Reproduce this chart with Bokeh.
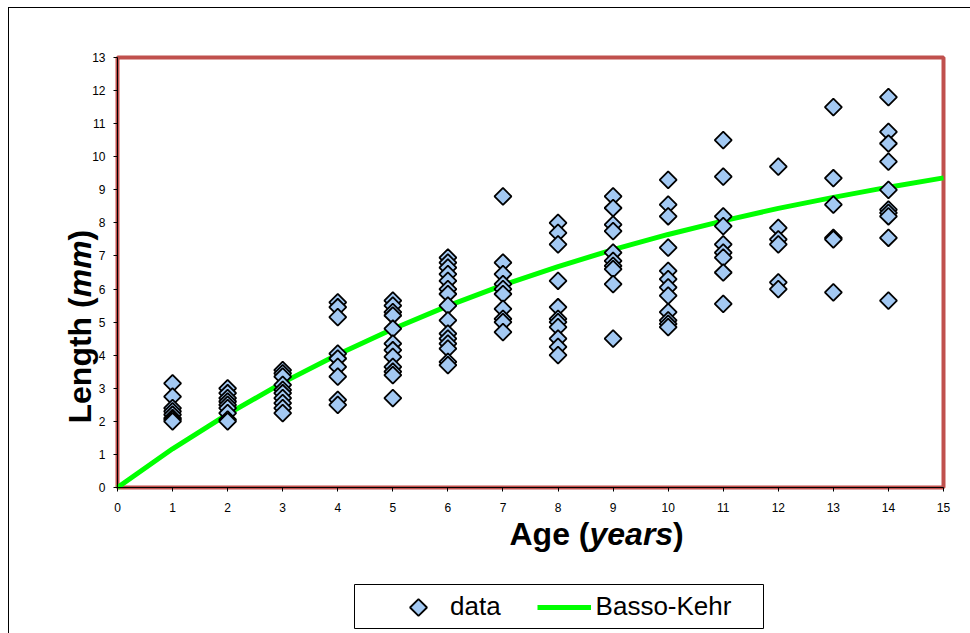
import numpy as np
from bokeh.plotting import figure
from bokeh.models import (FixedTicker, Range1d, Label, BoxAnnotation, Legend,
                          LegendItem)
from bokeh.embed import file_html
from bokeh.resources import INLINE

# Measured lengths (mm) for each age class (years)
length_age1 = [3.15, 2.75, 2.4, 2.3, 2.2, 2.1, 2.05, 2.0]
length_age2 = [3.0, 2.85, 2.7, 2.6, 2.5, 2.4, 2.25, 2.05, 2.0]
length_age3 = [3.55, 3.45, 3.35, 3.1, 2.95, 2.85, 2.7, 2.55, 2.4, 2.25]
length_age4 = [5.6, 5.45, 5.15, 4.05, 3.9, 3.65, 3.35, 2.65, 2.5]
length_age5 = [5.65, 5.5, 5.3, 5.2, 4.8, 4.35, 4.15, 3.95, 3.65, 3.5, 3.4, 2.7]
length_age6 = [6.95, 6.8, 6.65, 6.45, 6.25, 6.0, 5.85, 5.5, 5.05, 4.65, 4.5,
               4.35, 4.2, 3.8, 3.7]
length_age7 = [8.8, 6.8, 6.45, 6.15, 6.0, 5.85, 5.4, 5.1, 5.0, 4.7]
length_age8 = [8.0, 7.7, 7.35, 6.25, 5.45, 5.1, 5.0, 4.85, 4.5, 4.25, 4.0]
length_age9 = [8.8, 8.45, 7.95, 7.75, 7.1, 6.85, 6.7, 6.6, 6.15, 4.5]
length_age10 = [9.3, 8.55, 8.2, 7.25, 6.55, 6.3, 6.05, 5.8, 5.3, 5.05, 4.95, 4.85]
length_age11 = [10.5, 9.4, 8.2, 7.9, 7.35, 7.1, 6.95, 6.5, 5.55]
length_age12 = [9.7, 7.85, 7.5, 7.35, 6.2, 6.0]
length_age13 = [11.5, 9.35, 8.55, 7.55, 7.5, 5.9]
length_age14 = [11.8, 10.75, 10.4, 9.85, 9.0, 8.4, 8.3, 8.2, 7.55, 5.65]

# Fitted Basso-Kehr growth curve
curve_age = [0, 1, 2, 3, 4, 5, 6, 7, 8, 9, 10, 11, 12, 13, 14, 15]
curve_length = [0.0, 1.17, 2.22, 3.17, 4.02, 4.79, 5.49, 6.12, 6.68, 7.19,
                7.65, 8.06, 8.44, 8.77, 9.08, 9.36]

x_ticks = list(range(0, 16))
y_ticks = list(range(0, 14))

groups = [length_age1, length_age2, length_age3, length_age4, length_age5,
          length_age6, length_age7, length_age8, length_age9, length_age10,
          length_age11, length_age12, length_age13, length_age14]
data_age = []
data_length = []
for age, values in enumerate(groups, start=1):
    data_age += [age] * len(values)
    data_length += values

FONT = "Liberation Sans"
W, H = 970, 633
LEFT_PANEL = 40                     # room for the y tick labels
AX_L, AX_R, AX_T, AX_B = 117, 943, 57, 487   # data box on the page (px)

x0, x1 = x_ticks[0], x_ticks[-1]
y0, y1 = y_ticks[0], y_ticks[-1]
sx = (AX_R - AX_L) / (x1 - x0)
sy = (AX_B - AX_T) / (y1 - y0)
x_range = Range1d(x0 - (AX_L - LEFT_PANEL) / sx, x1 + (W - AX_R) / sx)
y_range = Range1d(y0 - (H - AX_B) / sy, y1 + AX_T / sy)

p = figure(width=W, height=H, x_range=x_range, y_range=y_range,
           x_axis_location="above", y_axis_location="left",
           output_backend="svg", toolbar_location=None,
           min_border_left=LEFT_PANEL, min_border_right=0,
           min_border_top=0, min_border_bottom=0)
p.xgrid.visible = False
p.ygrid.visible = False
p.outline_line_color = None
p.background_fill_alpha = 0
p.border_fill_alpha = 0
# white page with the thin outer chart-area frame
p.styles = {"background": "linear-gradient(#000,#000) 8px 7px / 1px 700px no-repeat,"
                          " linear-gradient(#000,#000) 8px 7px / 1000px 1px no-repeat,"
                          " #ffffff"}

# red plot-area border
p.add_layout(BoxAnnotation(left=x0, right=x1, bottom=y0, top=y1,
                           fill_color=None, line_color="#c0504d",
                           line_alpha=1, line_width=4, level="underlay"))

xa = p.xaxis[0]
ya = p.yaxis[0]
xa.ticker = FixedTicker(ticks=x_ticks)
ya.ticker = FixedTicker(ticks=y_ticks)
xa.fixed_location = y0
ya.fixed_location = x0
xa.bounds = (x0, x1)
ya.bounds = (y0, y1)
for ax in (xa, ya):
    ax.axis_line_color = "black"
    ax.axis_line_width = 1
    ax.major_tick_line_color = "black"
    ax.minor_tick_line_color = None
    ax.major_label_text_font = FONT
    ax.major_label_text_font_size = "12px"
    ax.major_label_text_color = "#000000"
ya.major_tick_in = 0
ya.major_tick_out = 4
ya.major_label_standoff = 8
# x ticks point down from the zero line, labels sit beneath it
xa.major_tick_in = 4
xa.major_tick_out = 0
xa.major_label_standoff = -24

MARKER = dict(marker="square", angle=np.pi / 4, size=12, fill_color="#a3c9f3",
              line_color="black", line_width=1.8)

curve = p.line(curve_age, curve_length, line_color="#00ff00", line_width=5)
pts = p.scatter(data_age, data_length, **MARKER)

# Axis titles with italic units (screen offsets from the frame's lower-left)
def add_label(text, x, y, style, angle=0.0):
    p.add_layout(Label(x=x, y=y, x_units="screen", y_units="screen",
                       text=text, text_font=FONT, text_font_size="32px",
                       text_font_style=style, text_color="black",
                       text_align="left", text_baseline="alphabetic",
                       angle=angle))

add_label("Age (", 469, 100, "bold")
add_label("years", 549, 100, "bold italic")
add_label(")", 632.6, 100, "bold")

add_label("Length (", 39, 210, "bold", np.pi / 2)
add_label("mm", 39, 336.2, "bold italic", np.pi / 2)
add_label(")", 39, 393.1, "bold", np.pi / 2)

# Legend frame and entries
LEG_GLYPH_X, LEG_ROW_Y, LEG_GLYPH_W = 391, 607, 54   # page px
p.add_layout(BoxAnnotation(left=314, right=723, top=49, bottom=5,
                           left_units="screen", right_units="screen",
                           top_units="screen", bottom_units="screen",
                           fill_color=None, line_color="black",
                           line_alpha=1, line_width=1))
# the legend's own marker swatch is never rotated, so the diamond key is
# drawn as a glyph in the legend slot and the entry uses a blank proxy
key_x = x0 + (LEG_GLYPH_X + LEG_GLYPH_W / 2 - AX_L) / sx
key_y = y0 - (LEG_ROW_Y - AX_B) / sy
p.scatter([key_x], [key_y], **MARKER)
blank = p.scatter([], [], marker="square", fill_alpha=0, line_alpha=0)

legend = Legend(items=[LegendItem(label="data", renderers=[blank]),
                       LegendItem(label="Basso-Kehr", renderers=[curve])],
                orientation="horizontal",
                location=(LEG_GLYPH_X - LEFT_PANEL, 11),
                border_line_color=None, background_fill_alpha=0,
                padding=0, margin=0, spacing=36, glyph_width=LEG_GLYPH_W,
                glyph_height=30, label_standoff=5,
                label_text_font=FONT, label_text_font_size="26px",
                label_text_color="black")
p.add_layout(legend, "center")

open("out.html", "w").write(file_html(p, INLINE))
